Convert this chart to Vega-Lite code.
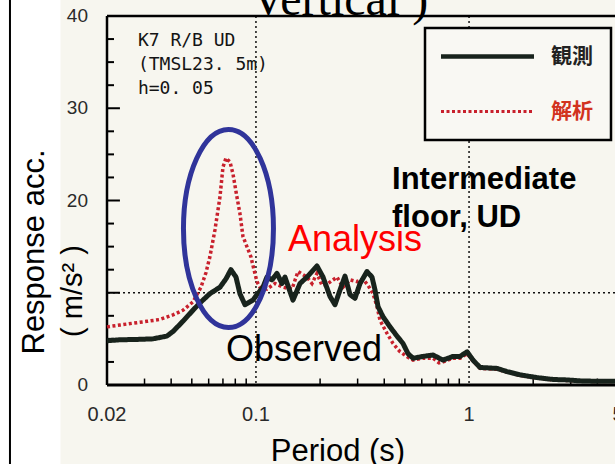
{
  "$schema": "https://vega.github.io/schema/vega-lite/v6.json",
  "width": 508,
  "height": 369,
  "autosize": {"type": "none"},
  "padding": {"left": 107, "top": 16, "right": 0, "bottom": 79},
  "background": "#f7f6ef",
  "config": {"view": {"stroke": null}, "font": "Liberation Sans"},
  "datasets": {
    "spectra": [
      {"period": 0.02, "acc": 4.8, "series": "観測"},
      {"period": 0.023, "acc": 4.9, "series": "観測"},
      {"period": 0.0285, "acc": 4.95, "series": "観測"},
      {"period": 0.0328, "acc": 5.0, "series": "観測"},
      {"period": 0.0382, "acc": 5.3, "series": "観測"},
      {"period": 0.0408, "acc": 5.8, "series": "観測"},
      {"period": 0.0454, "acc": 6.9, "series": "観測"},
      {"period": 0.0506, "acc": 8.1, "series": "観測"},
      {"period": 0.0546, "acc": 8.9, "series": "観測"},
      {"period": 0.0608, "acc": 9.9, "series": "観測"},
      {"period": 0.0678, "acc": 10.6, "series": "観測"},
      {"period": 0.0723, "acc": 11.5, "series": "観測"},
      {"period": 0.0763, "acc": 12.5, "series": "観測"},
      {"period": 0.0806, "acc": 11.7, "series": "観測"},
      {"period": 0.0841, "acc": 9.9, "series": "観測"},
      {"period": 0.0888, "acc": 8.7, "series": "観測"},
      {"period": 0.0968, "acc": 9.2, "series": "観測"},
      {"period": 0.1011, "acc": 9.8, "series": "観測"},
      {"period": 0.1079, "acc": 10.6, "series": "観測"},
      {"period": 0.1126, "acc": 11.7, "series": "観測"},
      {"period": 0.1189, "acc": 11.4, "series": "観測"},
      {"period": 0.1255, "acc": 12.1, "series": "観測"},
      {"period": 0.1325, "acc": 11.0, "series": "観測"},
      {"period": 0.1368, "acc": 11.7, "series": "観測"},
      {"period": 0.1492, "acc": 9.2, "series": "観測"},
      {"period": 0.1609, "acc": 11.0, "series": "観測"},
      {"period": 0.1735, "acc": 11.7, "series": "観測"},
      {"period": 0.1934, "acc": 12.9, "series": "観測"},
      {"period": 0.2064, "acc": 11.7, "series": "観測"},
      {"period": 0.2226, "acc": 9.6, "series": "観測"},
      {"period": 0.2349, "acc": 8.7, "series": "観測"},
      {"period": 0.248, "acc": 10.3, "series": "観測"},
      {"period": 0.2617, "acc": 11.8, "series": "観測"},
      {"period": 0.2763, "acc": 9.8, "series": "観測"},
      {"period": 0.2916, "acc": 9.4, "series": "観測"},
      {"period": 0.3078, "acc": 11.0, "series": "観測"},
      {"period": 0.3319, "acc": 12.3, "series": "観測"},
      {"period": 0.3504, "acc": 11.7, "series": "観測"},
      {"period": 0.362, "acc": 10.3, "series": "観測"},
      {"period": 0.3739, "acc": 8.5, "series": "観測"},
      {"period": 0.3948, "acc": 7.4, "series": "観測"},
      {"period": 0.4257, "acc": 6.3, "series": "観測"},
      {"period": 0.4592, "acc": 5.3, "series": "観測"},
      {"period": 0.4899, "acc": 4.5, "series": "観測"},
      {"period": 0.5171, "acc": 3.4, "series": "観測"},
      {"period": 0.5461, "acc": 2.9, "series": "観測"},
      {"period": 0.6081, "acc": 3.1, "series": "観測"},
      {"period": 0.6776, "acc": 3.25, "series": "観測"},
      {"period": 0.7549, "acc": 2.7, "series": "観測"},
      {"period": 0.8411, "acc": 3.1, "series": "観測"},
      {"period": 0.9075, "acc": 3.1, "series": "観測"},
      {"period": 0.9786, "acc": 3.6, "series": "観測"},
      {"period": 1.044, "acc": 2.7, "series": "観測"},
      {"period": 1.126, "acc": 1.9, "series": "観測"},
      {"period": 1.354, "acc": 1.8, "series": "観測"},
      {"period": 1.508, "acc": 1.45, "series": "観測"},
      {"period": 1.736, "acc": 1.1, "series": "観測"},
      {"period": 2.086, "acc": 0.8, "series": "観測"},
      {"period": 2.48, "acc": 0.6, "series": "観測"},
      {"period": 2.884, "acc": 0.55, "series": "観測"},
      {"period": 3.32, "acc": 0.45, "series": "観測"},
      {"period": 3.99, "acc": 0.4, "series": "観測"},
      {"period": 4.74, "acc": 0.4, "series": "観測"},
      {"period": 5.0, "acc": 0.4, "series": "観測"},
      {"period": 0.02, "acc": 6.3, "series": "解析"},
      {"period": 0.023, "acc": 6.5, "series": "解析"},
      {"period": 0.0265, "acc": 6.7, "series": "解析"},
      {"period": 0.0308, "acc": 6.9, "series": "解析"},
      {"period": 0.0354, "acc": 7.1, "series": "解析"},
      {"period": 0.0408, "acc": 7.6, "series": "解析"},
      {"period": 0.0454, "acc": 8.1, "series": "解析"},
      {"period": 0.0506, "acc": 9.0, "series": "解析"},
      {"period": 0.0552, "acc": 10.6, "series": "解析"},
      {"period": 0.0583, "acc": 12.2, "series": "解析"},
      {"period": 0.0608, "acc": 13.9, "series": "解析"},
      {"period": 0.0642, "acc": 16.8, "series": "解析"},
      {"period": 0.0678, "acc": 20.4, "series": "解析"},
      {"period": 0.07, "acc": 23.6, "series": "解析"},
      {"period": 0.0723, "acc": 24.6, "series": "解析"},
      {"period": 0.0755, "acc": 24.2, "series": "解析"},
      {"period": 0.078, "acc": 22.9, "series": "解析"},
      {"period": 0.0814, "acc": 20.4, "series": "解析"},
      {"period": 0.0841, "acc": 18.6, "series": "解析"},
      {"period": 0.0869, "acc": 16.1, "series": "解析"},
      {"period": 0.0907, "acc": 15.0, "series": "解析"},
      {"period": 0.0947, "acc": 13.9, "series": "解析"},
      {"period": 0.0979, "acc": 12.5, "series": "解析"},
      {"period": 0.1011, "acc": 11.2, "series": "解析"},
      {"period": 0.1044, "acc": 10.6, "series": "解析"},
      {"period": 0.1126, "acc": 10.4, "series": "解析"},
      {"period": 0.1228, "acc": 11.0, "series": "解析"},
      {"period": 0.1339, "acc": 10.6, "series": "解析"},
      {"period": 0.1476, "acc": 10.4, "series": "解析"},
      {"period": 0.1575, "acc": 12.3, "series": "解析"},
      {"period": 0.1735, "acc": 11.7, "series": "解析"},
      {"period": 0.1832, "acc": 11.0, "series": "解析"},
      {"period": 0.1934, "acc": 12.1, "series": "解析"},
      {"period": 0.2041, "acc": 10.8, "series": "解析"},
      {"period": 0.2178, "acc": 11.0, "series": "解析"},
      {"period": 0.2401, "acc": 11.7, "series": "解析"},
      {"period": 0.2562, "acc": 10.6, "series": "解析"},
      {"period": 0.2763, "acc": 11.4, "series": "解析"},
      {"period": 0.298, "acc": 11.2, "series": "解析"},
      {"period": 0.318, "acc": 11.5, "series": "解析"},
      {"period": 0.3356, "acc": 10.8, "series": "解析"},
      {"period": 0.3542, "acc": 9.9, "series": "解析"},
      {"period": 0.37, "acc": 8.5, "series": "解析"},
      {"period": 0.3822, "acc": 7.0, "series": "解析"},
      {"period": 0.4121, "acc": 5.6, "series": "解析"},
      {"period": 0.4398, "acc": 4.5, "series": "解析"},
      {"period": 0.4745, "acc": 3.6, "series": "解析"},
      {"period": 0.5171, "acc": 3.0, "series": "解析"},
      {"period": 0.5461, "acc": 2.7, "series": "解析"},
      {"period": 0.6081, "acc": 2.9, "series": "解析"},
      {"period": 0.6776, "acc": 2.9, "series": "解析"},
      {"period": 0.7231, "acc": 2.4, "series": "解析"},
      {"period": 0.7549, "acc": 2.5, "series": "解析"},
      {"period": 0.8411, "acc": 2.9, "series": "解析"},
      {"period": 0.9075, "acc": 2.9, "series": "解析"},
      {"period": 0.9786, "acc": 3.4, "series": "解析"},
      {"period": 1.044, "acc": 2.6, "series": "解析"},
      {"period": 1.126, "acc": 1.8, "series": "解析"},
      {"period": 1.354, "acc": 1.7, "series": "解析"},
      {"period": 1.508, "acc": 1.4, "series": "解析"},
      {"period": 1.736, "acc": 1.05, "series": "解析"},
      {"period": 2.086, "acc": 0.75, "series": "解析"},
      {"period": 2.48, "acc": 0.55, "series": "解析"},
      {"period": 2.884, "acc": 0.5, "series": "解析"},
      {"period": 3.32, "acc": 0.42, "series": "解析"},
      {"period": 3.99, "acc": 0.38, "series": "解析"},
      {"period": 4.74, "acc": 0.38, "series": "解析"},
      {"period": 5.0, "acc": 0.38, "series": "解析"}
    ],
    "yMajor": [{"acc": 0}, {"acc": 10}, {"acc": 20}, {"acc": 30}, {"acc": 40}],
    "yMinor": [
      {"acc": 2.5}, {"acc": 5}, {"acc": 7.5}, {"acc": 12.5}, {"acc": 15}, {"acc": 17.5},
      {"acc": 22.5}, {"acc": 25}, {"acc": 27.5}, {"acc": 32.5}, {"acc": 35}, {"acc": 37.5}
    ],
    "yLabels": [{"acc": 0}, {"acc": 20}, {"acc": 30}, {"acc": 40}],
    "xMinor": [
      {"period": 0.03}, {"period": 0.04}, {"period": 0.05}, {"period": 0.06}, {"period": 0.07}, {"period": 0.08}, {"period": 0.09},
      {"period": 0.2}, {"period": 0.3}, {"period": 0.4}, {"period": 0.5}, {"period": 0.6}, {"period": 0.7}, {"period": 0.8}, {"period": 0.9},
      {"period": 2}, {"period": 3}, {"period": 4}
    ],
    "xLabels": [{"period": 0.02}, {"period": 0.1}, {"period": 1}, {"period": 5}],
    "station": [
      {"text": "K7 R/B UD", "period": 0.02793, "acc": 36.75},
      {"text": "(TMSL23. 5m)", "period": 0.02793, "acc": 34.15},
      {"text": "h=0. 05", "period": 0.02793, "acc": 31.5}
    ],
    "location": [
      {"text": "Intermediate", "period": 0.4351, "acc": 21.25},
      {"text": "floor, UD", "period": 0.4351, "acc": 17.13}
    ]
  },
  "layer": [
    {
      "data": {"values": [{"p0": 0.004, "p1": 0.0121, "a0": -12, "a1": 46}]},
      "mark": {"type": "rect", "fill": "#ffffff"},
      "encoding": {
        "x": {"field": "p0", "type": "quantitative", "axis": null},
        "x2": {"field": "p1"},
        "y": {"field": "a0", "type": "quantitative", "axis": null},
        "y2": {"field": "a1"}
      }
    },
    {
      "data": {"values": [{"p": 0.00701, "a0": -12, "a1": 46}]},
      "mark": {"type": "rule", "stroke": "#000000", "strokeWidth": 2},
      "encoding": {
        "x": {"field": "p", "type": "quantitative", "axis": null},
        "y": {"field": "a0", "type": "quantitative", "axis": null},
        "y2": {"field": "a1"}
      }
    },
    {
      "data": {"values": [{"period": 0.1}, {"period": 1}]},
      "mark": {"type": "rule", "stroke": "#111111", "strokeWidth": 1.5, "strokeDash": [2, 3]},
      "encoding": {"x": {"field": "period", "type": "quantitative", "axis": null}}
    },
    {
      "data": {"values": [{"acc": 10}]},
      "mark": {"type": "rule", "stroke": "#111111", "strokeWidth": 1.5, "strokeDash": [2, 3]},
      "encoding": {"y": {"field": "acc", "type": "quantitative", "axis": null}}
    },
    {
      "data": {"values": [{"acc": 40}]},
      "mark": {"type": "rule", "stroke": "#000000", "strokeWidth": 2.5},
      "encoding": {"y": {"field": "acc", "type": "quantitative", "axis": null}}
    },
    {
      "data": {"values": [{"acc": 0}]},
      "mark": {"type": "rule", "stroke": "#000000", "strokeWidth": 3},
      "encoding": {"y": {"field": "acc", "type": "quantitative", "axis": null}}
    },
    {
      "data": {"values": [{"period": 0.02}]},
      "mark": {"type": "rule", "stroke": "#000000", "strokeWidth": 2.5},
      "encoding": {"x": {"field": "period", "type": "quantitative", "axis": null}}
    },
    {
      "data": {"name": "yMajor"},
      "mark": {"type": "rule", "stroke": "#000000", "strokeWidth": 2},
      "encoding": {
        "y": {"field": "acc", "type": "quantitative", "axis": null},
        "x": {"datum": 0.02, "type": "quantitative", "axis": null},
        "x2": {"datum": 0.023}
      }
    },
    {
      "data": {"name": "yMinor"},
      "mark": {"type": "rule", "stroke": "#000000", "strokeWidth": 2},
      "encoding": {
        "y": {"field": "acc", "type": "quantitative", "axis": null},
        "x": {"datum": 0.02, "type": "quantitative", "axis": null},
        "x2": {"datum": 0.02157}
      }
    },
    {
      "data": {"name": "xMinor"},
      "mark": {"type": "rule", "stroke": "#000000", "strokeWidth": 1.5},
      "encoding": {
        "x": {"field": "period", "type": "quantitative", "axis": null},
        "y": {"datum": 0, "type": "quantitative", "axis": null},
        "y2": {"datum": 0.7}
      }
    },
    {
      "data": {"name": "yLabels"},
      "mark": {"type": "text", "font": "Liberation Sans", "fontSize": 19, "align": "right", "baseline": "middle", "dx": -19, "color": "#2a2a2a"},
      "encoding": {
        "y": {"field": "acc", "type": "quantitative", "axis": null},
        "x": {"datum": 0.02, "type": "quantitative", "axis": null},
        "text": {"field": "acc", "type": "quantitative"}
      }
    },
    {
      "data": {"name": "xLabels"},
      "mark": {"type": "text", "font": "Liberation Sans", "fontSize": 20, "align": "center", "baseline": "middle", "dy": 30, "color": "#2a2a2a"},
      "encoding": {
        "x": {"field": "period", "type": "quantitative", "axis": null},
        "y": {"datum": 0, "type": "quantitative", "axis": null},
        "text": {"field": "period", "type": "quantitative", "format": "~g"}
      }
    },
    {
      "data": {"name": "spectra"},
      "transform": [{"filter": "datum.series === '解析'"}],
      "mark": {"type": "line", "strokeWidth": 3.5, "strokeCap": "butt"},
      "encoding": {
        "x": {
          "field": "period",
          "type": "quantitative",
          "title": "Period (s)",
          "scale": {"type": "log", "domain": [0.02, 5], "range": [0, 511], "nice": false},
          "axis": null
        },
        "y": {
          "field": "acc",
          "type": "quantitative",
          "title": "Response acc. (m/s²)",
          "scale": {"domain": [0, 40], "nice": false},
          "axis": null
        },
        "color": {
          "field": "series",
          "type": "nominal",
          "scale": {"domain": ["観測", "解析"], "range": ["#18231c", "#c8202c"]},
          "legend": {
            "orient": "none",
            "legendX": 318,
            "legendY": 12,
            "title": null,
            "padding": 18,
            "strokeColor": "#000000",
            "fillColor": "#f9f8f3",
            "symbolType": "M -3 0 L 3 0",
            "symbolSize": 961,
            "symbolStrokeWidth": 4,
            "symbolOffset": 34,
            "rowPadding": 33,
            "labelOffset": 53,
            "labelFont": "Noto Sans CJK JP",
            "labelFontSize": 21,
            "labelFontWeight": "bold",
            "encode": {
              "legend": {"update": {"strokeWidth": {"value": 2.5}}},
              "labels": {"update": {"fill": {"signal": "datum.value === '解析' ? '#d2321e' : '#222222'"}}},
              "symbols": {"update": {"strokeWidth": {"signal": "datum.value === '解析' ? 3 : 4.5"}}}
            }
          }
        },
        "strokeDash": {
          "field": "series",
          "type": "nominal",
          "scale": {"domain": ["観測", "解析"], "range": [[1, 0], [3, 2.5]]}
        }
      }
    },
    {
      "data": {"name": "spectra"},
      "transform": [{"filter": "datum.series === '観測'"}],
      "mark": {"type": "line", "strokeWidth": 5, "strokeJoin": "round"},
      "encoding": {
        "x": {"field": "period", "type": "quantitative", "axis": null},
        "y": {"field": "acc", "type": "quantitative", "axis": null},
        "color": {"field": "series", "type": "nominal"},
        "strokeDash": {"field": "series", "type": "nominal"}
      }
    },
    {
      "data": {"values": [{"period": 0.0743, "acc": 16.96}]},
      "mark": {"type": "point", "shape": "M 0 -1 A 0.4545 1 0 1 1 0 1 A 0.4545 1 0 1 1 0 -1 Z", "size": 39204, "filled": false, "stroke": "#30349a", "strokeWidth": 5, "opacity": 1},
      "encoding": {
        "x": {"field": "period", "type": "quantitative", "axis": null},
        "y": {"field": "acc", "type": "quantitative", "axis": null}
      }
    },
    {
      "data": {"values": [{"text": "Vertical )", "period": 0.0947, "acc": 40.1}]},
      "mark": {"type": "text", "font": "Liberation Serif", "fontSize": 48, "align": "left", "baseline": "alphabetic", "color": "#000000"},
      "encoding": {
        "x": {"field": "period", "type": "quantitative", "axis": null},
        "y": {"field": "acc", "type": "quantitative", "axis": null},
        "text": {"field": "text"}
      }
    },
    {
      "data": {"name": "station"},
      "mark": {"type": "text", "font": "DejaVu Sans Mono", "fontSize": 18, "align": "left", "baseline": "alphabetic", "color": "#141414"},
      "encoding": {
        "x": {"field": "period", "type": "quantitative", "axis": null},
        "y": {"field": "acc", "type": "quantitative", "axis": null},
        "text": {"field": "text"}
      }
    },
    {
      "data": {"name": "location"},
      "mark": {"type": "text", "font": "Liberation Sans", "fontSize": 31, "fontWeight": "bold", "align": "left", "baseline": "alphabetic", "color": "#000000"},
      "encoding": {
        "x": {"field": "period", "type": "quantitative", "axis": null},
        "y": {"field": "acc", "type": "quantitative", "axis": null},
        "text": {"field": "text"}
      }
    },
    {
      "data": {"values": [{"text": "Analysis", "period": 0.1413, "acc": 14.5}]},
      "mark": {"type": "text", "font": "Liberation Sans", "fontSize": 36, "align": "left", "baseline": "alphabetic", "color": "#ff0000"},
      "encoding": {
        "x": {"field": "period", "type": "quantitative", "axis": null},
        "y": {"field": "acc", "type": "quantitative", "axis": null},
        "text": {"field": "text"}
      }
    },
    {
      "data": {"values": [{"text": "Observed", "period": 0.0723, "acc": 2.6}]},
      "mark": {"type": "text", "font": "Liberation Sans", "fontSize": 36, "align": "left", "baseline": "alphabetic", "color": "#000000"},
      "encoding": {
        "x": {"field": "period", "type": "quantitative", "axis": null},
        "y": {"field": "acc", "type": "quantitative", "axis": null},
        "text": {"field": "text"}
      }
    },
    {
      "data": {"values": [{"text": "Period (s)", "period": 0.2427, "acc": -8.24}]},
      "mark": {"type": "text", "font": "Liberation Sans", "fontSize": 31, "align": "center", "baseline": "alphabetic", "color": "#000000"},
      "encoding": {
        "x": {"field": "period", "type": "quantitative", "axis": null},
        "y": {"field": "acc", "type": "quantitative", "axis": null},
        "text": {"field": "text"}
      }
    },
    {
      "data": {"values": [{"text": "Response acc.", "period": 0.00918, "acc": 14.42}]},
      "mark": {"type": "text", "font": "Liberation Sans", "fontSize": 31, "angle": 270, "align": "center", "baseline": "middle", "color": "#000000"},
      "encoding": {
        "x": {"field": "period", "type": "quantitative", "axis": null},
        "y": {"field": "acc", "type": "quantitative", "axis": null},
        "text": {"field": "text"}
      }
    },
    {
      "data": {"values": [{"text": "( m/s² )", "period": 0.01385, "acc": 10.19}]},
      "mark": {"type": "text", "font": "Liberation Sans", "fontSize": 29, "angle": 270, "align": "center", "baseline": "middle", "color": "#000000"},
      "encoding": {
        "x": {"field": "period", "type": "quantitative", "axis": null},
        "y": {"field": "acc", "type": "quantitative", "axis": null},
        "text": {"field": "text"}
      }
    }
  ]
}
